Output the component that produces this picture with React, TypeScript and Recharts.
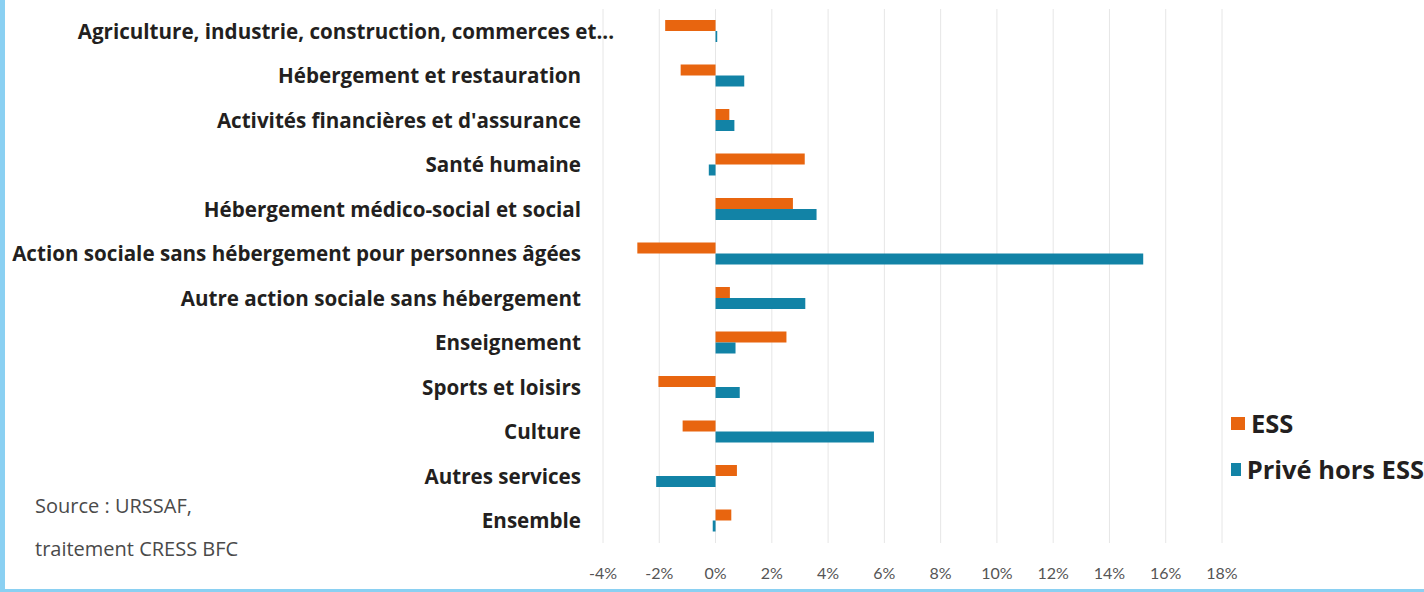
import React from 'react';
import { BarChart, Bar, XAxis, YAxis, CartesianGrid, Legend } from 'recharts';

const categories = [
  'Agriculture, industrie, construction, commerces et...',
  'Hébergement et restauration',
  "Activités financières et d'assurance",
  'Santé humaine',
  'Hébergement médico-social et social',
  'Action sociale sans hébergement pour personnes âgées',
  'Autre action sociale sans hébergement',
  'Enseignement',
  'Sports et loisirs',
  'Culture',
  'Autres services',
  'Ensemble',
];

const essValues = [-1.79, -1.24, 0.49, 3.17, 2.75, -2.78, 0.51, 2.52, -2.03, -1.17, 0.76, 0.56];
const priveValues = [0.06, 1.02, 0.67, -0.24, 3.59, 15.2, 3.19, 0.71, 0.86, 5.63, -2.11, -0.1];

const xTicks = [-4, -2, 0, 2, 4, 6, 8, 10, 12, 14, 16, 18];

const ORANGE = '#E8650F';
const BLUE = '#1283A6';
const FRAME = '#8AD0F2';

const data = categories.map((name, i) => ({
  name,
  ess: essValues[i],
  prive: priveValues[i],
}));

// the first label overflows into the plot in the original
function CategoryTick({ x, y, payload, index }: any) {
  return (
    <text
      x={x + (index === 0 ? 33 : 0)}
      y={y}
      dy="0.36em"
      textAnchor="end"
      fill="#231f20"
      fontSize={20.6}
      fontWeight={700}
      fontFamily="Open Sans"
    >
      {payload.value}
    </text>
  );
}

function LegendBox({ payload }: any) {
  return (
    <div>
      {(payload || []).map((p: any) => (
        <div
          key={p.value}
          style={{ display: 'flex', alignItems: 'center', height: 46, whiteSpace: 'nowrap' }}
        >
          <span style={{ width: 14, height: 13, background: p.color, marginRight: 6, display: 'inline-block' }} />
          <span style={{ fontFamily: 'Open Sans', fontWeight: 700, fontSize: 25.5, color: '#231f20' }}>{p.value}</span>
        </div>
      ))}
    </div>
  );
}

export default function App() {
  return (
    <div style={{ position: 'absolute', left: 0, top: 0, width: 1424, height: 592, background: '#fff', overflow: 'hidden' }}>
      <BarChart
        width={1424}
        height={592}
        data={data}
        layout="vertical"
        margin={{ top: 9, right: 202, bottom: 0, left: 0 }}
        barGap={0}
        barSize={11}
      >
        <CartesianGrid horizontal={false} stroke="#e6e6e6" />
        <XAxis
          type="number"
          domain={[-4, 18]}
          ticks={xTicks}
          tickFormatter={(v: number) => `${v}%`}
          axisLine={false}
          tickLine={false}
          height={49}
          tickMargin={19}
          tick={{ fill: '#555', fontSize: 16, fontFamily: 'Lato' }}
        />
        <YAxis
          type="category"
          dataKey="name"
          width={603}
          axisLine={false}
          tickLine={false}
          tickMargin={16}
          interval={0}
          tick={<CategoryTick />}
        />
        <Legend
          layout="vertical"
          align="center"
          verticalAlign="middle"
          content={<LegendBox />}
          wrapperStyle={{ left: 1231, top: 400, width: 193 }}
        />
        <Bar dataKey="ess" name="ESS" fill={ORANGE} isAnimationActive={false} />
        <Bar dataKey="prive" name="Privé hors ESS" fill={BLUE} isAnimationActive={false} />
      </BarChart>

      <div style={{ position: 'absolute', left: 35, top: 484, fontFamily: 'Open Sans', fontSize: 20, color: '#4a4a4a', lineHeight: '43px' }}>
        <div>Source : URSSAF,</div>
        <div>traitement CRESS BFC</div>
      </div>

      <div style={{ position: 'absolute', left: 0, top: 0, width: 5, height: 592, background: FRAME }} />
      <div style={{ position: 'absolute', left: 0, top: 589, width: 1424, height: 3, background: FRAME }} />
    </div>
  );
}
